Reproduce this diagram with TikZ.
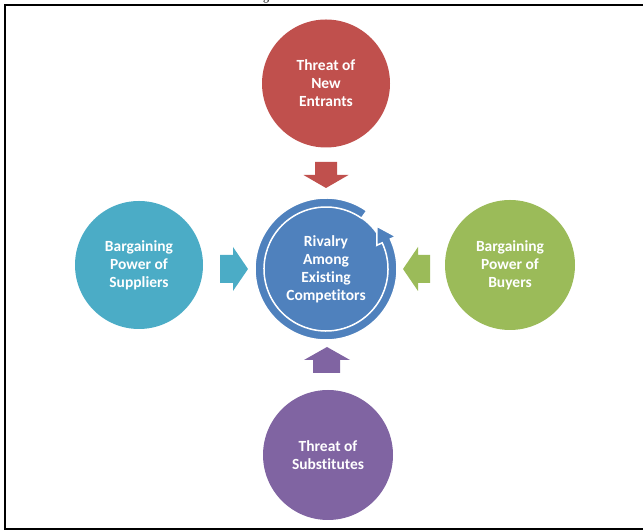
\documentclass[tikz,border=0pt]{standalone}
\usepackage{fontspec}
\setmainfont{Liberation Serif}
\newfontfamily\carlito[RawFeature={-liga}]{Carlito}
\definecolor{cred}{HTML}{C0504D}
\definecolor{cteal}{HTML}{4BACC6}
\definecolor{cgreen}{HTML}{9BBB59}
\definecolor{cpurple}{HTML}{8064A2}
\definecolor{cblue}{HTML}{4F81BD}
\begin{document}
\begin{tikzpicture}[x=1pt,y=1pt,
  disc/.style={circle, inner sep=0pt, minimum size=#1},
  lbl/.style={text=white, font=\carlito\bfseries\fontsize{15.5}{18}\selectfont, align=center},
  blockarrow/.style={line join=miter}]
\useasboundingbox (0,0) rectangle (643,532);
% frame
\draw[line width=2pt] (650,2.5) -- (5,2.5) -- (5,527) -- (650,527);
\node[anchor=base, font=\fontsize{12}{14}\selectfont, inner sep=0pt] (cut) at (266,531.5) {g};
% outer circles
\node[disc=128pt, fill=cred, lbl] (entrants) at (326,448.5) {Threat of\\New\\Entrants};
\node[disc=128pt, fill=cteal, lbl] (suppliers) at (139,267) {Bargaining\\Power of\\Suppliers};
\node[disc=130pt, fill=cgreen, lbl] (buyers) at (510,267) {Bargaining\\Power of\\Buyers};
\node[disc=130pt, fill=cpurple, lbl] (substitutes) at (328,77) {Threat of\\Substitutes};
% centre
\node[disc=123pt, fill=cblue] (rivalryDisc) at (326,263) {};
\begin{scope}[shift={(rivalryDisc.center)}]
\path[fill=cblue, draw=white, line width=1.5pt, line join=miter]
  (55:71) arc[start angle=55, end angle=385, radius=71]
  -- (25:77) -- (40:66.5) -- (25:56) -- (25:62)
  arc[start angle=385, end angle=55, radius=62] -- cycle;
\end{scope}
\node[lbl] (rivalry) at (rivalryDisc.center) {Rivalry\\Among\\Existing\\Competitors};
% block arrows
\coordinate (rt) at (326,344);
\fill[cred, blockarrow] (rt) -- ++(22.5,13) -- ++(-11.5,0) -- ++(0,13) -- ++(-22,0) -- ++(0,-13) -- ++(-11.5,0) -- cycle;
\coordinate (pt) at (327,185);
\fill[cpurple, blockarrow] (pt) -- ++(23,-13) -- ++(-10,0) -- ++(0,-13) -- ++(-27,0) -- ++(0,13) -- ++(-9,0) -- cycle;
\coordinate (tt) at (248,263);
\fill[cteal, blockarrow] (tt) -- ++(-15,22) -- ++(0,-8) -- ++(-13,0) -- ++(0,-28) -- ++(13,0) -- ++(0,-8) -- cycle;
\coordinate (gt) at (403,263);
\fill[cgreen, blockarrow] (gt) -- ++(15,22) -- ++(0,-8) -- ++(12,0) -- ++(0,-28) -- ++(-12,0) -- ++(0,-8) -- cycle;
\end{tikzpicture}
\end{document}
